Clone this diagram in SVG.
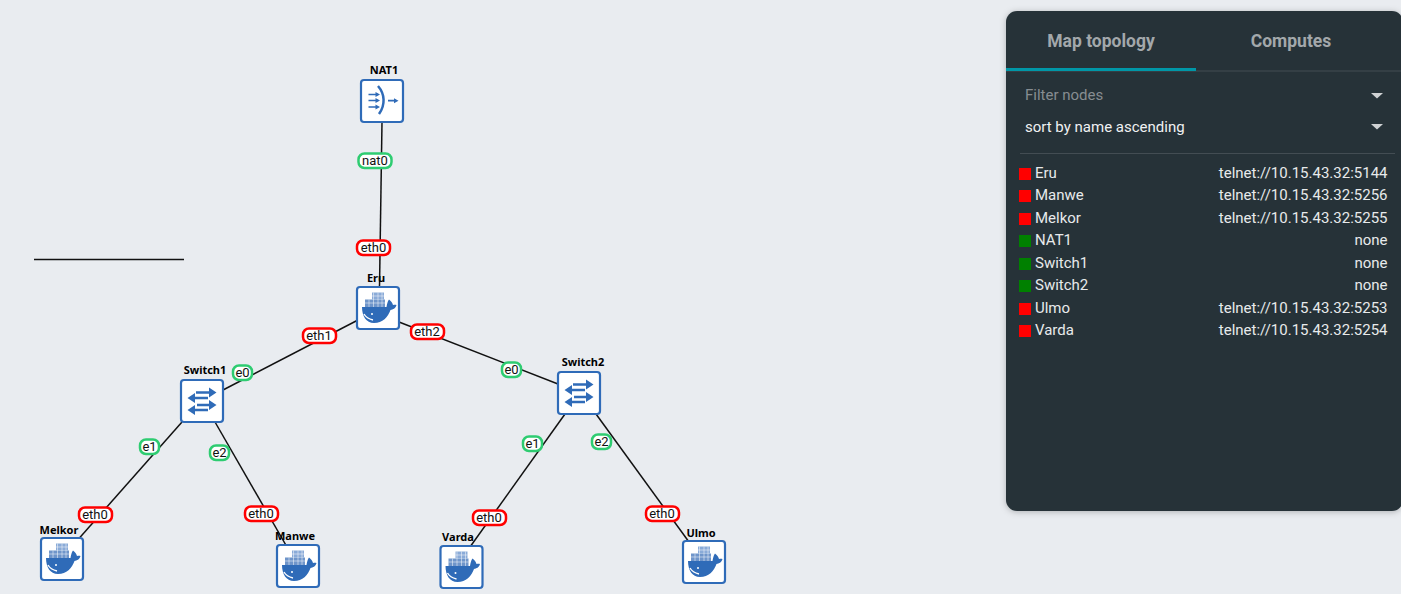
<svg xmlns="http://www.w3.org/2000/svg" width="1403" height="594" viewBox="0 0 1403 594">
<style>
text{font-family:Roboto,"Liberation Sans",sans-serif}
.box{fill:#fff;stroke:#2f6bb8;stroke-width:2.200}
.name{font-size:11px;font-weight:700;fill:#000;text-anchor:middle;font-family:"Noto Sans","Open Sans",sans-serif}
.link{stroke:#111;stroke-width:1.500;fill:none}
.lbl{fill:#fff;stroke-width:2.500}
.r{stroke:#f00}.g{stroke:#2ecc71}
.lt{font-size:13px;fill:#111;text-anchor:middle}
.ic{fill:#2f6bb8}
.ar{stroke:#2f6bb8;stroke-width:1.700;fill:none}
.ar2{stroke:#2f6bb8;stroke-width:2.400;fill:none}
.row{font-size:15px;fill:#e8eaeb}
.end{text-anchor:end}
</style>
<defs>
<filter id="sh" x="-5%" y="-5%" width="110%" height="110%"><feDropShadow dx="0" dy="1" stdDeviation="3" flood-color="#000" flood-opacity=".25"/></filter>
<g id="docker">
<rect class="box" x="0" y="0" width="42" height="42" rx="3"/>
<path class="ic" d="M5 20H29.500C30 17 30.500 14.500 32 12.500C34 14 35.500 16 36 18C37.500 17.500 38.500 17.500 39.500 18C38.500 21.500 36 22.500 33.500 23C31 30 25.500 36 17 36C9 36 5 29 5 20Z"/>
<rect x="8" y="12.500" width="20" height="7.500" fill="#6f95ca"/><rect x="15" y="5.500" width="12" height="7" fill="#8aabd8"/>
<path d="M8 16h20M15 9h12M12 12.500v7.500M16.500 5.500v14.500M21 5.500v14.500M25 5.500v14.500" stroke="#fff" stroke-width=".5"/>
<path d="M7 27c2 3.500 5 5 9 6" stroke="#fff" stroke-width="1.400" fill="none"/>
<circle cx="15" cy="27" r="1" fill="#fff"/>
</g>
<g id="switch">
<rect class="box" x="0" y="0" width="42" height="42" rx="3"/>
<path class="ar2" d="M15 12.500H31M12 18H27M16 25H31M12 30H27"/>
<path class="ic" d="M28 7.500l7.500 5-7.500 5zM14 13l-7.500 5 7.500 5zM28 20l7.500 5-7.500 5zM14 25l-7.500 5 7.500 5z"/>
</g>
<g id="nat">
<rect class="box" x="0" y="0" width="42" height="42" rx="3"/>
<path class="ar" d="M7.500 14.500H17M7.500 20.500H17M7.500 27H17M27 20.700H35"/>
<path class="ic" d="M14.500 12l4.500 2.500-4.500 2.500zM14.500 18l4.500 2.500-4.500 2.500zM14.500 24.500l4.500 2.500-4.500 2.500zM33 18.200l4.500 2.500-4.500 2.500z"/>
<path d="M17 6C24 14 24.500 25 18 34" stroke="#2f6bb8" stroke-width="2.500" fill="none"/>
</g>
</defs>
<rect width="1403" height="594" fill="#e9ecf0"/>
<g id="connectors">
<path class="link" d="M382 122L379.500 287"/>
<path class="link" d="M358 320L223 390"/>
<path class="link" d="M399 322L558 384"/>
<path class="link" d="M182 422L75 543"/>
<path class="link" d="M215 422L287 547"/>
<path class="link" d="M565 414L470 547"/>
<path class="link" d="M596 414L689 542"/>
<path d="M34 259.500H184" stroke="#111" stroke-width="1.300"/>
</g>
<g id="node-nat1"><text class="name" x="384" y="74">NAT1</text><use href="#nat" x="361" y="80"/></g>
<g id="node-eru"><text class="name" x="376" y="282">Eru</text><use href="#docker" x="357" y="287"/></g>
<g id="node-switch1"><text class="name" x="205" y="374">Switch1</text><use href="#switch" x="181" y="380"/></g>
<g id="node-switch2"><text class="name" x="583" y="366">Switch2</text><use href="#switch" x="558" y="372"/></g>
<g id="node-melkor"><text class="name" x="59" y="534">Melkor</text><use href="#docker" x="41" y="538"/></g>
<g id="node-manwe"><text class="name" x="295" y="540">Manwe</text><use href="#docker" x="277" y="545"/></g>
<g id="node-varda"><text class="name" x="458" y="541">Varda</text><use href="#docker" x="440.500" y="546"/></g>
<g id="node-ulmo"><text class="name" x="701" y="537">Ulmo</text><use href="#docker" x="683" y="541"/></g>
<g id="labels">
<rect class="lbl g" x="358.500" y="153.500" width="33" height="14.500" rx="6"/><text class="lt" x="375" y="165">nat0</text>
<rect class="lbl r" x="357" y="240.500" width="33" height="14.500" rx="6"/><text class="lt" x="373.500" y="252">eth0</text>
<rect class="lbl r" x="303" y="328.500" width="33" height="14.500" rx="6"/><text class="lt" x="319" y="340">eth1</text>
<rect class="lbl r" x="411" y="324.500" width="33" height="14.500" rx="6"/><text class="lt" x="427" y="336">eth2</text>
<rect class="lbl g" x="233" y="365.500" width="19" height="14.500" rx="6"/><text class="lt" x="242.500" y="377">e0</text>
<rect class="lbl g" x="502" y="362.500" width="19" height="14.500" rx="6"/><text class="lt" x="511.500" y="374">e0</text>
<rect class="lbl g" x="140" y="439.500" width="19" height="14.500" rx="6"/><text class="lt" x="149.500" y="451">e1</text>
<rect class="lbl g" x="210" y="445.500" width="19" height="14.500" rx="6"/><text class="lt" x="219.500" y="457">e2</text>
<rect class="lbl g" x="523" y="436.500" width="19" height="14.500" rx="6"/><text class="lt" x="532.500" y="448">e1</text>
<rect class="lbl g" x="592" y="434.500" width="19" height="14.500" rx="6"/><text class="lt" x="601.500" y="446">e2</text>
<rect class="lbl r" x="79" y="507.500" width="33" height="14.500" rx="6"/><text class="lt" x="95" y="519">eth0</text>
<rect class="lbl r" x="245" y="506.500" width="33" height="14.500" rx="6"/><text class="lt" x="261" y="518">eth0</text>
<rect class="lbl r" x="473" y="510.500" width="33" height="14.500" rx="6"/><text class="lt" x="489" y="522">eth0</text>
<rect class="lbl r" x="646" y="506.500" width="33" height="14.500" rx="6"/><text class="lt" x="662" y="518">eth0</text>
</g>
<g id="panel">
<rect x="1006" y="11" width="397" height="500" rx="11" fill="#273238" filter="url(#sh)"/>
<rect x="1006" y="70.500" width="395" height="1" fill="#434d53"/>
<rect x="1006" y="68" width="190" height="3" fill="#0097a7"/>
<text x="1101" y="47" font-size="17.500" font-weight="700" fill="#a3a8ab" text-anchor="middle">Map topology</text>
<text x="1291" y="47" font-size="17.500" font-weight="700" fill="#a3a8ab" text-anchor="middle">Computes</text>
<text x="1025" y="100" font-size="15" fill="#868d91">Filter nodes</text>
<path d="M1371 93h12l-6 5.500z" fill="#cfd2d4"/>
<text x="1025" y="132" font-size="15" fill="#f0f1f2">sort by name ascending</text>
<path d="M1371 124h12l-6 5.500z" fill="#cfd2d4"/>
<rect x="1020" y="153" width="375" height="1" fill="#434d53"/>
<g id="node-list">
<rect x="1019" y="168" width="12" height="12" fill="#f00"/><text class="row" x="1035" y="178">Eru</text><text class="row end" x="1387.500" y="178">telnet://10.15.43.32:5144</text>
<rect x="1019" y="190" width="12" height="12" fill="#f00"/><text class="row" x="1035" y="200">Manwe</text><text class="row end" x="1387.500" y="200">telnet://10.15.43.32:5256</text>
<rect x="1019" y="213" width="12" height="12" fill="#f00"/><text class="row" x="1035" y="223">Melkor</text><text class="row end" x="1387.500" y="223">telnet://10.15.43.32:5255</text>
<rect x="1019" y="235" width="12" height="12" fill="#008000"/><text class="row" x="1035" y="245">NAT1</text><text class="row end" x="1387.500" y="245">none</text>
<rect x="1019" y="258" width="12" height="12" fill="#008000"/><text class="row" x="1035" y="268">Switch1</text><text class="row end" x="1387.500" y="268">none</text>
<rect x="1019" y="280" width="12" height="12" fill="#008000"/><text class="row" x="1035" y="290">Switch2</text><text class="row end" x="1387.500" y="290">none</text>
<rect x="1019" y="303" width="12" height="12" fill="#f00"/><text class="row" x="1035" y="313">Ulmo</text><text class="row end" x="1387.500" y="313">telnet://10.15.43.32:5253</text>
<rect x="1019" y="325" width="12" height="12" fill="#f00"/><text class="row" x="1035" y="335">Varda</text><text class="row end" x="1387.500" y="335">telnet://10.15.43.32:5254</text>
</g>
</g>
<rect x="1401" y="0" width="2" height="594" fill="#fff"/>
</svg>
